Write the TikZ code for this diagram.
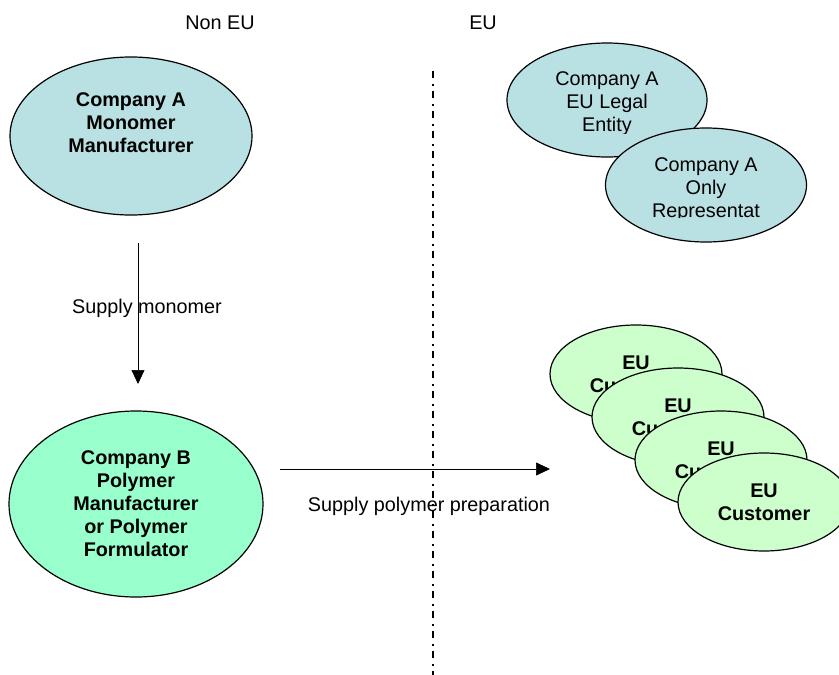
\documentclass[tikz,border=0pt]{standalone}
\usepackage{fontspec}
\setmainfont{Liberation Sans}
\usepackage{tikz}
\usetikzlibrary{arrows.meta,positioning,shapes.geometric}

\definecolor{firmblue}{RGB}{185,224,227}
\definecolor{polygreen}{RGB}{153,255,204}
\definecolor{custgreen}{RGB}{204,255,204}

\begin{document}
\begin{tikzpicture}[x=1pt, y=-1pt,
    every node/.style={font=\fontsize{19.8}{23}\selectfont, align=center, inner sep=0pt},
    boldtext/.style={font=\fontsize{19.8}{23}\selectfont\bfseries},
    firm/.style={draw, ellipse, line width=1.2pt},
    flow/.style={-{Triangle[length=14pt,width=13pt]}, line width=0.7pt}]
  \useasboundingbox (0,0) rectangle (839,675);

  % zones
  \node (noneu) at (220,23) {Non EU};
  \node (eu) at (483,23) {EU};

  % non EU side
  \node[firm, fill=firmblue, minimum width=242, minimum height=158] (monoA) at (131,136) {};
  \node[boldtext] (monoAtext) at (131,123) {Company A\\Monomer\\Manufacturer};
  \node[firm, fill=polygreen, minimum width=254, minimum height=186, boldtext] (polyB) at (136,504)
    {Company B\\Polymer\\Manufacturer\\or Polymer\\Formulator};

  % EU side: Company A entities
  \node[firm, fill=firmblue, minimum width=200, minimum height=114] (legal) at (607,100) {};
  \begin{scope}
    \clip (500,60) rectangle (720,133);
    \node (legaltext) at (607,104) {Company A\\EU Legal\\Entity};
  \end{scope}
  \node[firm, fill=firmblue, minimum width=201, minimum height=114] (onlyrep) at (706,185) {};
  \begin{scope}
    \clip (600,145) rectangle (810,217);
    \node (onlyreptext) at (706,190) {Company A\\Only\\Representat};
  \end{scope}

  % EU customers
  \foreach \i/\cx/\cy in {1/636/374, 2/678/417, 3/721/460, 4/764/502}
    \node[firm, fill=custgreen, minimum width=172, minimum height=98, boldtext] (cust\i) at (\cx,\cy) {EU\\Customer};

  % flows
  \coordinate (monoout) at (138,243);
  \coordinate (monoin) at (138,384);
  \draw[flow] (monoout) -- (monoin);
  \node (supplymono) at (147,308) {Supply monomer};

  \coordinate (polyout) at (280,469);
  \coordinate (polyin) at (550,469);
  \draw[flow] (polyout) -- (polyin);
  \node (supplypoly) at (429,506) {Supply polymer preparation};

  % EU border
  \coordinate (bordertop) at (433,71);
  \coordinate (borderbot) at (433,675);
  \draw[line width=1.3pt, dash pattern=on 7pt off 5.5pt on 2pt off 5.5pt] (bordertop) -- (borderbot);
\end{tikzpicture}
\end{document}
